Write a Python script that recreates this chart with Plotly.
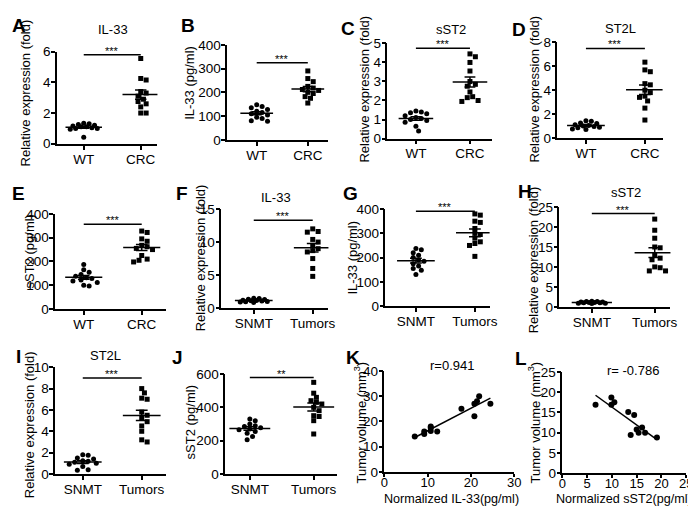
import numpy as np
import plotly.graph_objects as go

W, H = 696, 506
FONT = "Liberation Sans, Arial, sans-serif"

# ---------------- data ----------------
cats_wt = ["WT", "CRC"]
cats_tm = ["SNMT", "Tumors"]

A_wt = [1.33, 1.3, 1.25, 1.15, 1.1, 1.05, 1.0, 1.0, 0.95, 1.1, 1.2, 0.42]
A_crc = [5.55, 4.25, 4.15, 3.4, 3.3, 3.1, 2.9, 2.75, 2.6, 2.4, 2.0, 2.0]
B_wt = [148, 140, 135, 128, 120, 115, 110, 105, 95, 90, 80, 78]
B_crc = [290, 258, 245, 225, 218, 212, 208, 200, 195, 182, 175, 155]
C_wt = [1.45, 1.4, 1.35, 1.3, 1.2, 1.1, 1.05, 1.0, 0.95, 0.85, 0.65, 0.4]
C_crc = [4.45, 4.3, 4.0, 3.55, 3.0, 2.85, 2.75, 2.45, 2.2, 2.15, 2.0, 1.95]
D_wt = [1.45, 1.4, 1.25, 1.2, 1.1, 1.05, 1.0, 0.95, 0.9, 0.85, 0.75, 0.7]
D_crc = [6.35, 5.7, 5.55, 4.55, 4.45, 4.0, 3.8, 3.5, 3.4, 3.1, 2.5, 1.5]
E_wt = [187, 165, 155, 145, 138, 132, 128, 122, 118, 112, 100, 97]
E_crc = [328, 322, 295, 285, 268, 262, 255, 250, 225, 210, 205, 198]
F_snmt = [1.5, 1.45, 1.35, 1.3, 1.2, 1.15, 1.1, 1.05, 1.0, 0.95, 0.9, 0.85]
F_tum = [12.0, 11.6, 11.5, 10.4, 10.0, 9.5, 9.0, 8.7, 8.5, 7.5, 6.0, 4.8]
G_snmt = [237, 232, 220, 210, 200, 190, 185, 175, 165, 155, 148, 130]
G_tum = [380, 375, 350, 345, 320, 300, 295, 280, 265, 258, 250, 205]
H_snmt = [1.4, 1.3, 1.3, 1.2, 1.2, 1.1, 1.1, 1.0, 1.0, 0.9, 0.9, 0.8]
H_tum = [22.0, 19.2, 17.2, 15.0, 14.8, 13.0, 12.2, 11.8, 10.0, 9.8, 9.0, 9.0]
I_snmt = [1.8, 1.75, 1.5, 1.4, 1.25, 1.2, 1.1, 1.0, 0.9, 0.7, 0.4, 0.35]
I_tum = [8.0, 7.6, 7.1, 7.0, 5.8, 5.5, 5.2, 4.9, 4.5, 4.0, 3.2, 3.0]
J_snmt = [330, 320, 300, 290, 285, 278, 270, 265, 255, 245, 225, 205]
J_tum = [550, 485, 460, 440, 430, 420, 400, 380, 350, 345, 320, 240]

K_x = [7.0, 9.2, 9.2, 10.7, 10.7, 10.7, 12.2, 17.8, 20.8, 20.8, 21.4, 21.9, 24.5]
K_y = [14.0, 15.0, 16.0, 16.2, 17.5, 18.0, 16.0, 25.0, 22.0, 27.0, 28.0, 30.0, 27.0]
L_x = [6.7, 9.9, 9.9, 10.5, 13.3, 14.5, 13.8, 15.0, 15.4, 16.1, 16.7, 19.1]
L_y = [16.9, 18.7, 16.9, 17.5, 15.1, 14.4, 9.4, 10.8, 10.0, 11.3, 10.0, 8.8]

K_r_text = "r=0.941"
L_r_text = "r= -0.786"

# ---------------- layout of panels (pixel boxes) ----------------
dot_panels = [
    dict(letter="A", lp=(7, 11), cats=cats_wt, data=(A_wt, A_crc), box=(45.7, 148, 37.7, 132.7), c=(73, 131),
         yr=(0, 6), dt=2, title="IL-33", tp=(103, 15), ytitle="Relative expression (fold)", yt=(14, 80),
         sig="***", sigy=5.8),
    dict(letter="B", lp=(179, 11), cats=cats_wt, data=(B_wt, B_crc), box=(219, 322, 30.7, 128.7), c=(249, 301),
         yr=(0, 400), dt=100, title=None, ytitle="IL-33 (pg/ml)", yt=(181, 70), sig="***", sigy=324),
    dict(letter="C", lp=(342, 14), cats=cats_wt, data=(C_wt, C_crc), box=(382, 488, 29.3, 127.3), c=(411, 466),
         yr=(0, 5), dt=1, title="sST2", tp=(447, 15), ytitle="Relative expression (fold)", yt=(359, 76),
         sig="***", sigy=4.74),
    dict(letter="D", lp=(516, 15), cats=cats_wt, data=(D_wt, D_crc), box=(555, 662, 28.3, 126.7), c=(584, 644),
         yr=(0, 8), dt=2, title="ST2L", tp=(619, 14), ytitle="Relative expression (fold)", yt=(532, 76),
         sig="***", sigy=7.5),
    dict(letter="E", lp=(7, 184), cats=cats_wt, data=(E_wt, E_crc), box=(44, 157, 205, 303), c=(73, 132),
         yr=(0, 400), dt=100, title=None, ytitle="sST2 (pg/ml)", yt=(18, 244), sig="***", sigy=357),
    dict(letter="F", lp=(173, 184), cats=cats_tm, data=(F_snmt, F_tum), box=(213, 322, 200, 302), c=(246, 306),
         yr=(0, 15), dt=5, title="IL-33", tp=(269, 188), ytitle="Relative expression (fold)", yt=(192, 250),
         sig="***", sigy=13.3),
    dict(letter="G", lp=(344, 184), cats=cats_tm, data=(G_snmt, G_tum), box=(380, 486, 200, 300), c=(411, 471),
         yr=(0, 400), dt=100, title=None, ytitle="IL-33 (pg/ml)", yt=(347, 250), sig="***", sigy=391),
    dict(letter="H", lp=(522, 182), cats=cats_tm, data=(H_snmt, H_tum), box=(557, 670, 198, 300.7), c=(590, 654),
         yr=(0, 25), dt=5, title="sST2", tp=(625, 183), ytitle="Relative expression (fold)", yt=(531, 252),
         sig="***", sigy=23.4),
    dict(letter="I", lp=(7, 352), cats=cats_tm, data=(I_snmt, I_tum), box=(44, 157, 363, 473), c=(72, 132),
         yr=(0, 10), dt=2, title="ST2L", tp=(95, 351), ytitle="Relative expression (fold)", yt=(18, 422),
         sig="***", sigy=9.0),
    dict(letter="J", lp=(168, 353), cats=cats_tm, data=(J_snmt, J_tum), box=(217, 331, 370, 473), c=(242, 307),
         yr=(0, 600), dt=200, title=None, ytitle="sST2 (pg/ml)", yt=(182, 420), sig="**", sigy=579),
]

sc_panels = [
    dict(letter="K", lp=(347, 353), x=K_x, y=K_y, box=(379, 511, 366.7, 471), xr=(0, 30), xdt=10, yr=(0, 40), dt=10,
         title=K_r_text, tp=(448, 361), xtitle="Normalized IL-33(pg/ml)", xtp=(447, 499),
         ytitle="Tumor volume (mm<sup>3</sup>)", yt=(354, 420)),
    dict(letter="L", lp=(518, 354), x=L_x, y=L_y, box=(560, 686, 368, 472), xr=(0, 25), xdt=5, yr=(0, 25), dt=5,
         title=L_r_text, tp=(632, 366), xtitle="Normalized sST2(pg/ml)", xtp=(623, 499),
         ytitle="Tumor volume (mm<sup>3</sup>)", yt=(531, 420)),
]

fig = go.Figure()
annotations = []
layout = {}


def px2x(p):
    return p / W


def px2y(p):
    return 1 - p / H


def ann(text, xp, yp, size=13, bold=False, angle=0, xanchor="center", yanchor="middle", yshift=0):
    annotations.append(dict(
        text=f"<b>{text}</b>" if bold else text, x=px2x(xp), y=px2y(yp), xref="paper", yref="paper",
        showarrow=False, textangle=angle, xanchor=xanchor, yanchor=yanchor, yshift=yshift,
        font=dict(family=FONT, size=size, color="black")))


def swarm(vals, ppu_y, ppu_x, diam=5.0, maxoff=16.0):
    """Deterministic beeswarm offsets (GraphPad-like), spread limited to +-maxoff px."""
    vals = np.asarray(vals, dtype=float)
    order = np.argsort(-vals)
    placed = []
    offs = np.zeros(len(vals))
    step = diam * 0.55
    cands = [0.0]
    k = 1
    while k * step <= maxoff:
        cands += [k * step, -k * step]
        k += 1
    for i in order:
        ypx = vals[i] * ppu_y
        d = diam
        chosen = None
        while chosen is None:
            for cx in cands:
                if all((ypx - py) ** 2 + (cx - pxx) ** 2 >= d ** 2 for pxx, py in placed):
                    chosen = cx
                    break
            d *= 0.8
        placed.append((chosen, ypx))
        offs[i] = chosen / ppu_x
    return offs


TF = dict(family=FONT, size=13.5, color="black")
axis_common = dict(showline=True, linecolor="black", linewidth=1.5, ticks="outside", ticklen=4,
                   tickwidth=1.5, tickcolor="black", showgrid=False, zeroline=False,
                   tickfont=TF, ticklabelstandoff=-2)

idx = 0
for p in dot_panels:
    idx += 1
    xa = "x" if idx == 1 else f"x{idx}"
    ya = "y" if idx == 1 else f"y{idx}"
    left, right, top, bot = p["box"]
    c0, c1 = p["c"]
    ppu_x = c1 - c0
    ppu_y = (bot - top) / (p["yr"][1] - p["yr"][0])
    xr = ((left - c0) / ppu_x, (right - c0) / ppu_x)
    sfx = "" if idx == 1 else str(idx)
    layout["xaxis" + sfx] = dict(axis_common, domain=[px2x(left), px2x(right)], range=list(xr),
                                 anchor=ya, tickvals=[0, 1], ticktext=p["cats"])
    layout["yaxis" + sfx] = dict(axis_common, domain=[px2y(bot), px2y(top)], range=list(p["yr"]),
                                 anchor=xa, dtick=p["dt"], tick0=0)
    for g, vals in enumerate(p["data"]):
        vals = np.asarray(vals, dtype=float)
        offs = swarm(vals, ppu_y, ppu_x)
        fig.add_trace(go.Scatter(x=g + offs, y=vals, mode="markers", xaxis=xa, yaxis=ya,
                                 marker=dict(symbol="circle" if g == 0 else "square", size=5, color="black"),
                                 showlegend=False, cliponaxis=False))
        m = vals.mean()
        sem = vals.std(ddof=1) / np.sqrt(len(vals))
        hw, cw = 0.32, 0.1
        lx = [g - hw, g + hw, None, g - cw, g + cw, None, g - cw, g + cw, None, g, g]
        ly = [m, m, None, m + sem, m + sem, None, m - sem, m - sem, None, m - sem, m + sem]
        fig.add_trace(go.Scatter(x=lx, y=ly, mode="lines", xaxis=xa, yaxis=ya,
                                 line=dict(color="black", width=1.5), showlegend=False, cliponaxis=False))
    fig.add_trace(go.Scatter(x=[0, 1], y=[p["sigy"], p["sigy"]], mode="lines", xaxis=xa, yaxis=ya,
                             line=dict(color="black", width=1.5), showlegend=False, cliponaxis=False))
    sig_px = bot - (p["sigy"] - p["yr"][0]) * ppu_y
    ann(p["sig"], (c0 + c1) / 2, sig_px, size=11, yanchor="bottom", yshift=-4)
    ann(p["letter"], *p["lp"], size=19, bold=True)
    if p["title"]:
        ann(p["title"], *p["tp"], size=13)
    ann(p["ytitle"], *p["yt"], size=13, angle=-90)

for p in sc_panels:
    idx += 1
    xa, ya = f"x{idx}", f"y{idx}"
    sfx = str(idx)
    left, right, top, bot = p["box"]
    layout["xaxis" + sfx] = dict(axis_common, domain=[px2x(left), px2x(right)], range=list(p["xr"]),
                                 anchor=ya, dtick=p["xdt"], tick0=0, ticklen=3, ticklabelstandoff=-5,
                                 tickfont=dict(TF, size=13))
    layout["yaxis" + sfx] = dict(axis_common, domain=[px2y(bot), px2y(top)], range=list(p["yr"]),
                                 anchor=xa, dtick=p["dt"], tick0=0)
    xs = np.asarray(p["x"], dtype=float)
    ys = np.asarray(p["y"], dtype=float)
    fig.add_trace(go.Scatter(x=xs, y=ys, mode="markers", xaxis=xa, yaxis=ya,
                             marker=dict(symbol="circle", size=6, color="black"),
                             showlegend=False, cliponaxis=False))
    k, b = np.polyfit(xs, ys, 1)
    fx = np.array([xs.min(), xs.max()])
    fig.add_trace(go.Scatter(x=fx, y=k * fx + b, mode="lines", xaxis=xa, yaxis=ya,
                             line=dict(color="black", width=1.5), showlegend=False))
    ann(p["letter"], *p["lp"], size=19, bold=True)
    ann(p["title"], *p["tp"], size=13)
    ann(p["xtitle"], *p["xtp"], size=12.6)
    ann(p["ytitle"], *p["yt"], size=13, angle=-90)

fig.update_layout(width=W, height=H, margin=dict(l=0, r=0, t=0, b=0),
                  paper_bgcolor="white", plot_bgcolor="white", showlegend=False,
                  annotations=annotations, **layout)
fig.write_html("out.html")
